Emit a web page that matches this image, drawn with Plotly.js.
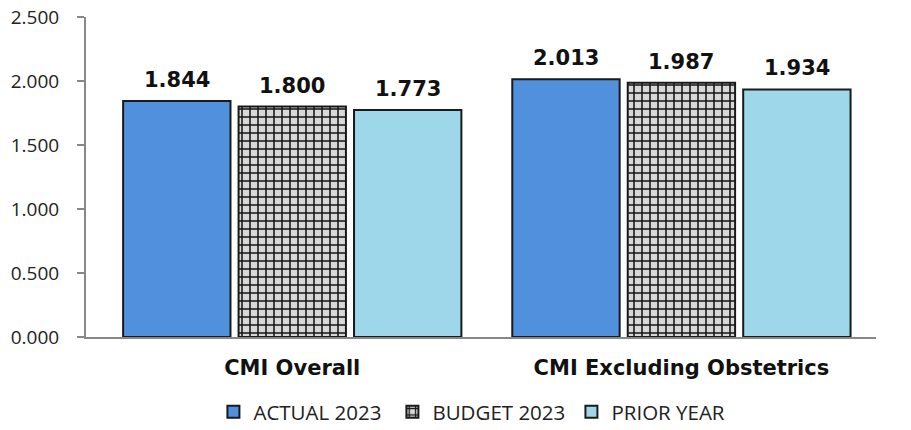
<!DOCTYPE html>
<html><head><meta charset="utf-8">
<script src="https://cdn.plot.ly/plotly-3.0.1.min.js"></script>
<style>html,body{margin:0;padding:0;background:#fff;}#chart{width:911px;height:430px;}</style>
</head><body><div id="chart"></div>
<script>
var categories = ["CMI Overall", "CMI Excluding Obstetrics"];
var actual2023 = [1.844, 2.013];
var budget2023 = [1.800, 1.987];
var priorYear = [1.773, 1.934];
var seriesNames = ["ACTUAL 2023", "BUDGET 2023", "PRIOR YEAR"];
var yTicks = [0, 0.5, 1.0, 1.5, 2.0, 2.5];

function fmt(v){ return v.toFixed(3); }
var BARGAP = 0.11, BARGROUPGAP = 0.07;
var txtFont = {family: "DejaVu Sans, Verdana, sans-serif", size: 21, color: "#111", weight: 700};
function bar(name, vals, marker){
  return {type: "bar", name: name, x: categories, y: vals,
    marker: marker, hoverinfo: "skip"};
}
var seriesVals = [actual2023, budget2023, priorYear];
var data = [
  bar(seriesNames[0], actual2023, {color: "#5190dd", line: {color: "#1a1a1a", width: 2}}),
  bar(seriesNames[1], budget2023, {color: "#d8d8d8", line: {color: "#1a1a1a", width: 2},
      pattern: {shape: "+", fgcolor: "#151515", bgcolor: "#d8d8d8", size: 8, solidity: 0.35, fillmode: "replace"}}),
  bar(seriesNames[2], priorYear, {color: "#9dd7e9", line: {color: "#1a1a1a", width: 2}})
];
// value labels above each bar, placed through the axis scales
var annotations = [];
var slot = (1 - BARGAP) / seriesVals.length;
seriesVals.forEach(function(vals, s){
  vals.forEach(function(v, c){
    annotations.push({xref: "x", yref: "y", x: c + (s - (seriesVals.length - 1) / 2) * slot, y: v,
      text: fmt(v), showarrow: false, yanchor: "bottom", yshift: 7, font: txtFont});
  });
});
var layout = {
  width: 911, height: 430,
  margin: {l: 86, r: 35, t: 17, b: 93, autoexpand: false},
  paper_bgcolor: "#fff", plot_bgcolor: "#fff",
  barmode: "group", bargap: BARGAP, bargroupgap: BARGROUPGAP,
  showlegend: true,
  annotations: annotations,
  legend: {orientation: "h", xref: "container", x: 0.529, xanchor: "center", yref: "container", y: 0.042, yanchor: "middle",
    font: {family: "Open Sans, Liberation Sans, sans-serif", size: 20.5, color: "#222"},
    entrywidth: 134, entrywidthmode: "pixels", traceorder: "normal"},
  xaxis: {type: "category", range: [-0.53, 1.5], showline: true, linecolor: "#888", linewidth: 2,
    ticks: "", showgrid: false, automargin: false, ticklabelstandoff: 11,
    tickfont: {family: "DejaVu Sans, Verdana, sans-serif", size: 21, color: "#111", weight: 700}},
  yaxis: {range: [0, 2.5], tickvals: yTicks, ticktext: yTicks.map(fmt), showline: true, linecolor: "#888", linewidth: 2,
    ticks: "outside", ticklen: 7, tickcolor: "#888", tickwidth: 1.5, showgrid: false, zeroline: false,
    automargin: false, ticklabelstandoff: 14,
    tickfont: {family: "Open Sans, Liberation Sans, sans-serif", size: 19, color: "#222"}}
};
Plotly.newPlot("chart", data, layout, {displayModeBar: false, staticPlot: true});
</script></body></html>
